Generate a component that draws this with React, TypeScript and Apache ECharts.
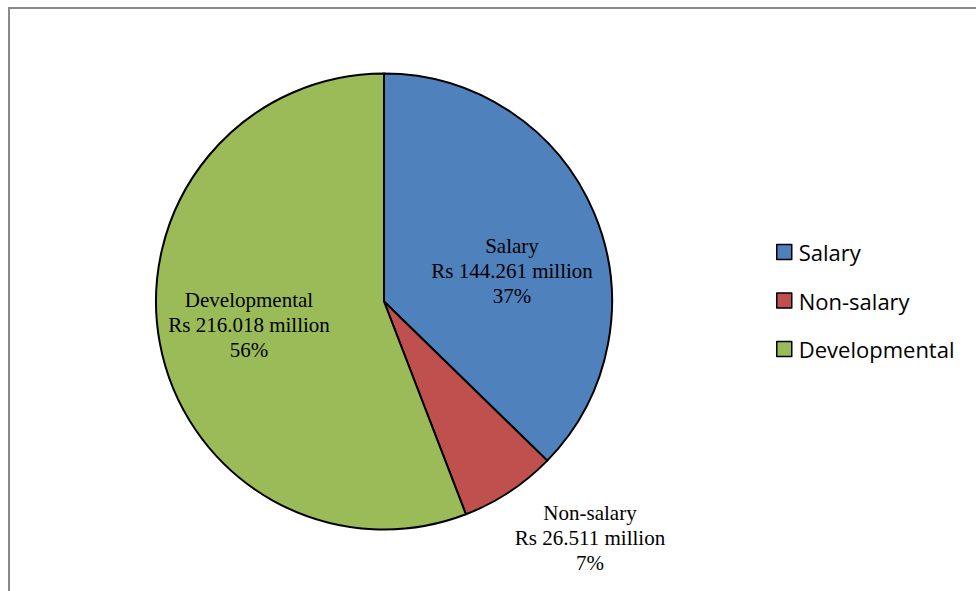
import React, { useEffect, useRef } from "react";
import * as echarts from "echarts";

const categories = ["Salary", "Non-salary", "Developmental"];
const amounts = [144.261, 26.511, 216.018];
const colors = ["#4F81BD", "#C0504D", "#9BBB59"];
// label anchor positions (px) for each slice's data label
const labelPositions: [number, number][] = [
  [512, 271],
  [590, 538],
  [249, 325],
];

export default function App() {
  const ref = useRef<HTMLDivElement>(null);
  useEffect(() => {
    if (!ref.current) return;
    const chart = echarts.init(ref.current, null, { renderer: "svg" });
    chart.setOption({
      animation: false,
      backgroundColor: "#ffffff",
      graphic: [
        {
          type: "rect",
          shape: { x: 9, y: 8, width: 1200, height: 1200 },
          style: { fill: "none", stroke: "#8a8a8a", lineWidth: 2 },
          silent: true,
        },
      ],
      legend: {
        orient: "vertical",
        left: 771,
        top: 236,
        icon: "rect",
        itemWidth: 15,
        itemHeight: 15,
        itemGap: 26.5,
        itemStyle: { borderColor: "#000", borderWidth: 1.5 },
        textStyle: {
          fontFamily: "Open Sans",
          fontSize: 22,
          lineHeight: 22,
          color: "#000",
          padding: [0, 0, 0, 2],
        },
        data: categories,
      },
      series: [
        {
          type: "pie",
          center: [384, 301.5],
          radius: 228,
          startAngle: 90,
          clockwise: true,
          avoidLabelOverlap: false,
          itemStyle: { borderColor: "#000", borderWidth: 2 },
          emphasis: { disabled: true },
          label: {
            show: true,
            position: "inside",
            fontFamily: "Liberation Serif",
            fontSize: 21,
            lineHeight: 25,
            color: "#000",
            align: "center",
            verticalAlign: "middle",
            formatter: (p: any) =>
              `${p.name}\nRs ${p.value.toFixed(3)} million\n${Math.round(p.percent)}%`,
          },
          labelLine: { show: false },
          labelLayout: (p: any) => {
            const pos = labelPositions[p.dataIndex];
            return { x: pos[0], y: pos[1], align: "center", verticalAlign: "middle" };
          },
          data: categories.map((name, i) => ({
            name,
            value: amounts[i],
            itemStyle: { color: colors[i] },
          })),
        },
      ],
    });
    return () => chart.dispose();
  }, []);
  return (
    <div
      ref={ref}
      style={{ position: "absolute", left: 0, top: 0, width: 976, height: 591 }}
    />
  );
}
